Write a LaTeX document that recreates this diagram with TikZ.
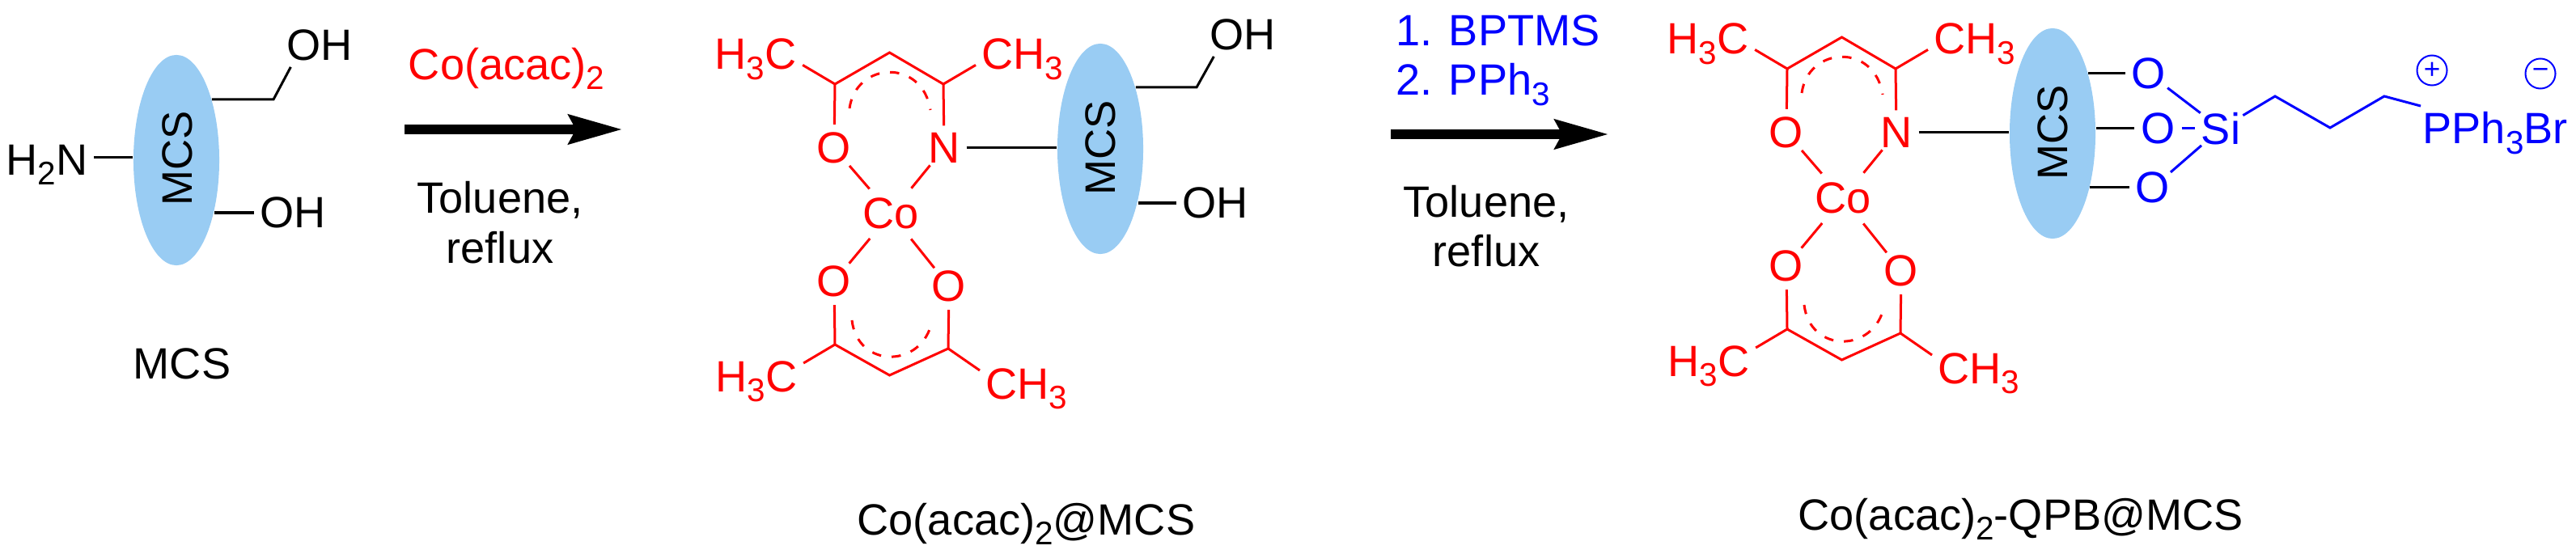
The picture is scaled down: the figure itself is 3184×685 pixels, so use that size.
\documentclass[tikz,border=0pt]{standalone}
\usepackage{fontspec}
\setmainfont{Liberation Sans}
\usetikzlibrary{arrows.meta,shapes.geometric}
\definecolor{mcsblue}{RGB}{153,204,243}
\newcommand{\chemsub}[1]{\raisebox{-0.12cm}{\fontsize{11.5}{12}\selectfont #1}}
\tikzset{
  chemtext/.style = {font=\fontsize{15.4}{17.6}\selectfont, inner sep=0pt},
  atom/.style = {chemtext, circle, inner sep=0pt},
  redatom/.style = {atom, text=red},
  blueatom/.style = {atom, text=blue},
  group/.style = {chemtext, rectangle, inner sep=0.07cm},
  particle/.style = {ellipse, fill=mcsblue, minimum width=1.06cm, minimum height=2.6cm, inner sep=0pt},
  particlename/.style = {font=\fontsize{15}{17}\selectfont, rotate=90},
  bond/.style = {line width=0.03cm},
  redbond/.style = {bond, red},
  bluebond/.style = {bond, blue},
  resonance/.style = {line width=0.03cm, red, dash pattern=on 0.115cm off 0.13cm},
  reaction/.style = {line width=0.11cm, -{Stealth[length=0.66cm,width=0.36cm,inset=0.09cm]}},
  charge/.style = {draw=blue, text=blue, circle, inner sep=0pt, minimum size=0.37cm, line width=0.02cm, font=\fontsize{10}{10}\selectfont}
}
% one MCS particle carrying the two acac rings
\newcommand{\CoOnParticle}{
    \node[particle] (mcs) at (1360,184) {};
    \node[particlename] (mcslab) at (1360,183) {MCS};
    \node[redatom] (ot) at (1031,183) {O};
    \node[redatom] (n) at (1167,183) {N};
    \node[redatom] (co) at (1101,264) {Co};
    \node[redatom] (ol) at (1031,348) {O};
    \node[redatom] (or) at (1173,354) {O};
    \node[group,text=red,anchor=base west] (metA) at (876,86) {H\chemsub{3}C};
    \node[group,text=red,anchor=base west] (metB) at (1206,86) {CH\chemsub{3}};
    \node[group,text=red,anchor=base west] (metC) at (877,484) {H\chemsub{3}C};
    \node[group,text=red,anchor=base west] (metD) at (1211,493) {CH\chemsub{3}};
    \coordinate (ca) at (1032,104);
    \coordinate (cb) at (1099.5,65);
    \coordinate (cc) at (1166,104);
    \coordinate (cd) at (1032,426);
    \coordinate (ce) at (1099.5,464);
    \coordinate (cf) at (1172,431);
    \coordinate (da) at (1050,134);
    \coordinate (db) at (1150,136);
    \coordinate (dc) at (1053,396);
    \coordinate (dd) at (1152,397);
    \draw[redbond] (metA.-7) -- (ca) -- (cb) -- (cc) -- (metB.187);
    \draw[redbond] (ca) -- (ot);
    \draw[redbond] (cc) -- (n);
    \draw[redbond] (ot) -- (co);
    \draw[redbond] (n) -- (co);
    \draw[redbond] (co) -- (ol);
    \draw[redbond] (co) -- (or);
    \draw[redbond] (ol) -- (cd);
    \draw[redbond] (or) -- (cf);
    \draw[redbond] (metC.21) -- (cd) -- (ce) -- (cf) -- (metD.159);
    \draw[resonance] (da) .. controls (1058,76) and (1140,72) .. (db);
    \draw[resonance] (dc) .. controls (1060,456) and (1140,456) .. (dd);
    \draw[bond] (n.east) -- (n.east -| mcs.west);
}

\begin{document}
\begin{tikzpicture}[x=0.01cm,y=-0.01cm]
    \useasboundingbox (0,0) rectangle (3184,685);
    % starting particle
    \node[particle] (mcsA) at (218,198) {};
    \node[particlename] (mcsAlab) at (219,196) {MCS};
    \node[group,anchor=base west] (amine) at (0,216) {H\chemsub{2}N};
    \node[group] (ohA) at (395,56) {OH};
    \node[group] (ohB) at (362,263) {OH};
    \coordinate (kinkA) at (338,123);
    \draw[bond] (amine.east |- mcsA.176) -- (mcsA.176);
    \draw[bond] (mcsA.60 |- kinkA) -- (kinkA) -- (ohA.217);
    \draw[bond] (mcsA.-54 |- ohB) -- (ohB.west);
    \node[chemtext] (nameA) at (225,450) {MCS};
    % first step
    \node[chemtext,text=red] (reagentA) at (626,85) {Co(acac)\chemsub{2}};
    \coordinate (arrowAs) at (500,160);
    \coordinate (arrowAe) at (769,160);
    \draw[reaction] (arrowAs) -- (arrowAe);
    \node[chemtext,align=center,anchor=base] (condA) at (618,325) {Toluene,\\reflux};
    % complex on the particle
    \begin{scope}[name prefix=cA-]
        \CoOnParticle
    \end{scope}
    \node[group] (ohC) at (1536,43) {OH};
    \node[group] (ohD) at (1502,251) {OH};
    \coordinate (kinkC) at (1479,108);
    \draw[bond] (cA-mcs.60 |- kinkC) -- (kinkC) -- (ohC.217);
    \draw[bond] (cA-mcs.-54 |- ohD) -- (ohD.west);
    \node[chemtext,anchor=base west] (nameB) at (1059,661) {Co(acac)\chemsub{2}@MCS};
    % second step
    \node[chemtext,text=blue,align=left,anchor=base west] (reagentB) at (1725,118) {1. BPTMS\\2. PPh\chemsub{3}};
    \coordinate (arrowBs) at (1719,166);
    \coordinate (arrowBe) at (1988,166);
    \draw[reaction] (arrowBs) -- (arrowBe);
    \node[chemtext,align=center,anchor=base] (condB) at (1837,330) {Toluene,\\reflux};
    % final product
    \begin{scope}[name prefix=cB-,shift={(1177,-19)}]
        \CoOnParticle
    \end{scope}
    \node[blueatom] (oa) at (2656,91) {O};
    \node[blueatom] (ob) at (2667.5,159) {O};
    \node[blueatom] (oc) at (2661,232) {O};
    \node[blueatom] (si) at (2745,159) {Si};
    \node[group,text=blue,anchor=base west] (pph) at (2987,178) {PPh\chemsub{3}Br};
    \node[charge] (plus) at (3006,87) {+};
    \node[charge] (minus) at (3140,91) {−};
    \coordinate (chainA) at (2812,119);
    \coordinate (chainB) at (2880,158);
    \coordinate (chainC) at (2947,119);
    \draw[bond] (cB-mcs.60 |- oa) -- (oa.west);
    \draw[bond] (cB-mcs.east |- ob) -- (ob.west);
    \draw[bond] (cB-mcs.-56 |- oc) -- (oc.west);
    \draw[bluebond] (oa) -- (si);
    \draw[bluebond] (ob) -- (si);
    \draw[bluebond] (oc) -- (si);
    \draw[bluebond] (si) -- (chainA) -- (chainB) -- (chainC) -- (pph.160);
    \node[chemtext,anchor=base west] (nameC) at (2222,655) {Co(acac)\chemsub{2}-QPB@MCS};
\end{tikzpicture}
\end{document}
